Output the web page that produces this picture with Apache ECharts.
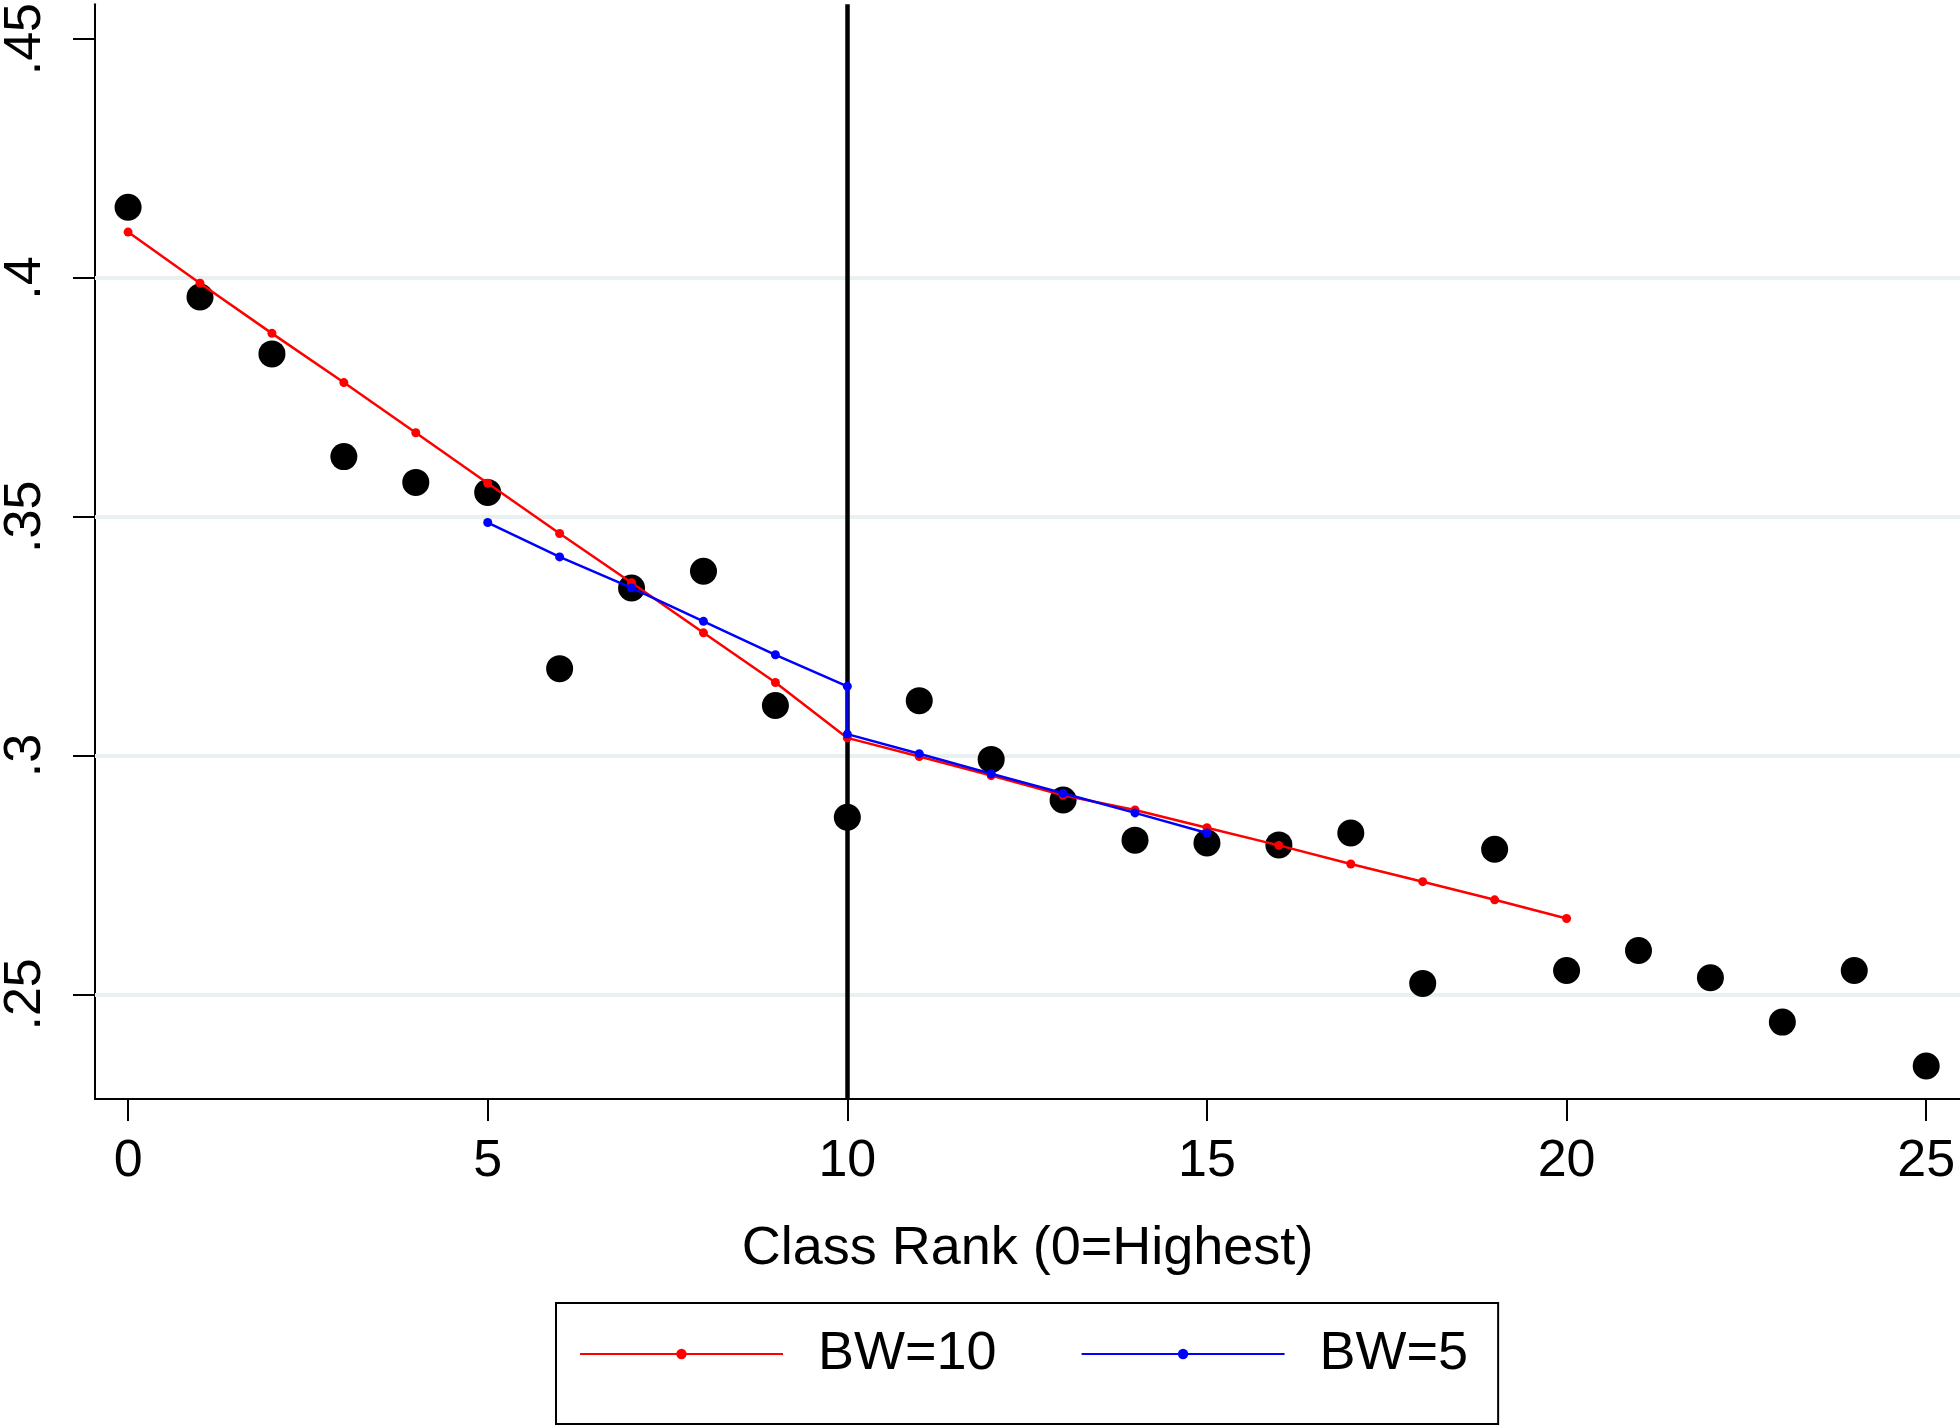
<!DOCTYPE html>
<html>
<head>
<meta charset="utf-8">
<script src="https://cdn.jsdelivr.net/npm/echarts@6/dist/echarts.min.js"></script>
<style>html,body{margin:0;padding:0;background:#fff;}#c{width:1960px;height:1427px;}</style>
</head>
<body>
<div id="c"></div>
<script>
// ---- data ----
const scatterX = [0,1,2,3,4,5,6,7,8,9,10,11,12,13,14,15,16,17,18,19,20,21,22,23,24,25];
const scatterY = [0.4148,0.3960,0.3841,0.3626,0.3572,0.3551,0.3182,0.3351,0.3386,0.3105,0.2871,0.3115,0.2992,0.2907,0.2823,0.2817,0.2813,0.2838,0.2523,0.2804,0.2550,0.2592,0.2535,0.2442,0.2550,0.2350];
const bw10X = [0,1,2,3,4,5,6,7,8,9,10,11,12,13,14,15,16,17,18,19,20];
const bw10Y = [0.4096,0.3989,0.3884,0.3781,0.3676,0.3570,0.3465,0.3362,0.3257,0.3153,0.3037,0.2998,0.2958,0.2917,0.2886,0.2849,0.2812,0.2773,0.2736,0.2698,0.2659];
const bw5X = [5,6,7,8,9,10,10,11,12,13,14,15];
const bw5Y = [0.3488,0.3416,0.3351,0.3281,0.3211,0.3145,0.3045,0.3004,0.2962,0.2921,0.2880,0.2838];
const yTicks = [0.25,0.3,0.35,0.4,0.45];
const yGrid = [0.25,0.3,0.35,0.4];
const xTicks = [0,5,10,15,20,25];
const cutoff = 10;
const seriesNames = ['BW=10','BW=5'];
const xTitle = 'Class Rank (0=Highest)';

const FONT = "'Liberation Sans', Arial, Helvetica, sans-serif";
const zip = (xs, ys) => xs.map((x, i) => [x, ys[i]]);

const chart = echarts.init(document.getElementById('c'), null, {renderer: 'canvas'});
chart.setOption({
  animation: false,
  backgroundColor: '#ffffff',
  grid: {left: 95, right: 0, top: 0, bottom: 328, containLabel: false},
  xAxis: {
    type: 'value', min: -0.46, max: 25.47,
    name: xTitle, nameLocation: 'middle', nameGap: 123,
    nameTextStyle: {fontFamily: FONT, fontSize: 54, color: '#000'},
    axisLine: {show: true, onZero: false, lineStyle: {color: '#000', width: 2}},
    axisTick: {show: true, length: 22, lineStyle: {color: '#000', width: 2}, customValues: xTicks},
    axisLabel: {fontFamily: FONT, fontSize: 52, color: '#000', margin: 37, customValues: xTicks},
    splitLine: {show: false}
  },
  yAxis: {
    type: 'value', min: 0.2281, max: 0.4573,
    axisLine: {show: true, onZero: false, lineStyle: {color: '#000', width: 2}},
    axisTick: {show: true, length: 22, lineStyle: {color: '#000', width: 2}, customValues: yTicks},
    axisLabel: {fontFamily: FONT, fontSize: 52, color: '#000', margin: 43, rotate: 90,
      customValues: yTicks,
      formatter: v => String(v).replace(/^0/, '')},
    splitLine: {show: false}
  },
  legend: {
    data: seriesNames,
    left: 556, top: 1303,
    orient: 'horizontal',
    itemWidth: 203, itemHeight: 13, itemGap: 84,
    padding: [21, 30, 40, 23],
    borderColor: '#000', borderWidth: 2, backgroundColor: '#fff',
    textStyle: {fontFamily: FONT, fontSize: 54, color: '#000', lineHeight: 60, padding: [0, 0, 0, 30]}
  },
  series: [
    {
      name: 'refs', type: 'line', data: [], z: 1, silent: true,
      markLine: {
        silent: true, z: 1, symbol: ['none', 'none'], animation: false,
        label: {show: false},
        data: yGrid.map(v => ({yAxis: v, lineStyle: {color: '#e9f0f1', width: 4, type: 'solid'}}))
          .concat([{xAxis: cutoff, lineStyle: {color: '#000', width: 4.5, type: 'solid'}}])
      }
    },
    {
      name: 'obs', type: 'scatter', z: 2,
      data: zip(scatterX, scatterY),
      symbol: 'circle', symbolSize: 27,
      itemStyle: {color: '#000', opacity: 1}
    },
    {
      name: seriesNames[0], type: 'line', z: 3,
      data: zip(bw10X, bw10Y),
      symbol: 'circle', symbolSize: 9,
      lineStyle: {color: '#ff0000', width: 2.5},
      itemStyle: {color: '#ff0000'}
    },
    {
      name: seriesNames[1], type: 'line', z: 4,
      data: zip(bw5X, bw5Y),
      symbol: 'circle', symbolSize: 9,
      lineStyle: {color: '#0000ff', width: 2.5},
      itemStyle: {color: '#0000ff'}
    }
  ]
});
</script>
</body>
</html>
